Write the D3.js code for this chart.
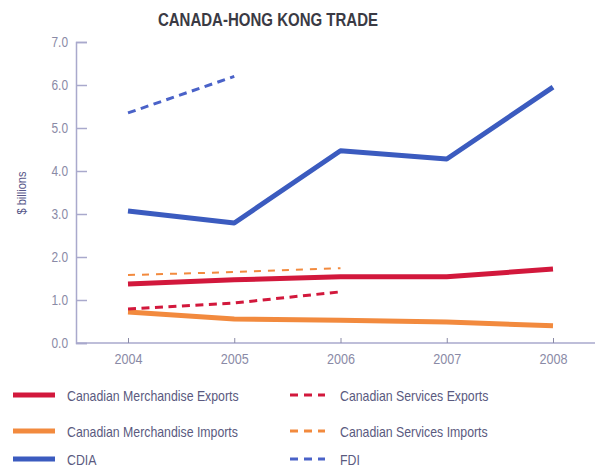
<!DOCTYPE html>
<html><head><meta charset="utf-8">
<script src="https://cdn.jsdelivr.net/npm/d3@7"></script>
<style>body{margin:0;background:#fff}svg{display:block}</style>
</head><body>
<svg id="c" width="597" height="474"></svg>
<script>
const years = [2004, 2005, 2006, 2007, 2008];
const yTicks = [0, 1, 2, 3, 4, 5, 6, 7];
const merchExports = [1.37, 1.47, 1.54, 1.54, 1.72];
const merchImports = [0.72, 0.56, 0.53, 0.49, 0.40];
const cdia = [3.07, 2.79, 4.47, 4.28, 5.95];
const servExports = [0.79, 0.93, 1.19];
const servImports = [1.58, 1.65, 1.74];
const fdi = [5.35, 6.2];

const series = [
  {name:"Canadian Merchandise Exports", vals:merchExports, color:"#d2183c", w:5, dash:null},
  {name:"Canadian Merchandise Imports", vals:merchImports, color:"#f28a3e", w:5, dash:null},
  {name:"CDIA", vals:cdia, color:"#3b5bbf", w:5, dash:null},
  {name:"Canadian Services Exports", vals:servExports, color:"#d2183c", w:3, dash:"8,5.5"},
  {name:"Canadian Services Imports", vals:servImports, color:"#f28a3e", w:2, dash:"7,7"},
  {name:"FDI", vals:fdi, color:"#4a62c8", w:3, dash:"8,5.5"}
];

const svg = d3.select("#c");
const font = "'Liberation Sans',Arial,sans-serif";
const x = d3.scalePoint().domain(years).range([128, 553]);
const y = d3.scaleLinear().domain([0, 7]).range([343, 42]);
const axisCol = "#a9a9cc", labCol = "#8a8aa6";

function condense(sel, f){
  sel.each(function(){
    const w = this.getComputedTextLength();
    d3.select(this).attr("textLength", w*f).attr("lengthAdjust","spacingAndGlyphs");
  });
}

svg.append("text").attr("x", 268).attr("y", 26).attr("text-anchor","middle")
  .attr("font-family", font).attr("font-weight","bold").attr("font-size", 19)
  .attr("fill","#3a3a44").text("CANADA-HONG KONG TRADE")
  .call(s=>condense(s, 0.79));

// y axis
const ya = svg.append("g").attr("transform","translate(76,0)")
  .call(d3.axisRight(y).tickValues(yTicks).tickSize(11).tickFormat(d3.format(".1f")));
ya.select(".domain").attr("stroke", axisCol).attr("stroke-width",1.5);
ya.selectAll(".tick line").attr("stroke", axisCol).attr("stroke-width",1.5);
ya.selectAll(".tick text").attr("x",-8).attr("text-anchor","end")
  .attr("font-family", font).attr("font-size",14).attr("fill",labCol)
  .call(s=>condense(s, 0.85));

// x axis
svg.append("line").attr("x1",76).attr("x2",595).attr("y1",343).attr("y2",343)
  .attr("stroke",axisCol).attr("stroke-width",1.5);
const xa = svg.append("g").attr("transform","translate(0,343)")
  .call(d3.axisTop(x).tickSize(5).tickFormat(d3.format("d")));
xa.select(".domain").remove();
xa.selectAll(".tick line").attr("stroke", labCol);
xa.selectAll(".tick text").attr("y", 21).attr("font-family", font)
  .attr("font-size",14).attr("fill",labCol)
  .call(s=>condense(s, 0.9));

svg.append("text").attr("transform","translate(26,193) rotate(-90)")
  .attr("text-anchor","middle").attr("font-family",font).attr("font-size",13)
  .attr("fill","#58588a").text("$ billions")
  .call(s=>condense(s, 0.85));

const line = d3.line().x((d,i)=>x(years[i])).y(d=>y(d));
series.forEach(s=>{
  svg.append("path").datum(s.vals).attr("d", line).attr("fill","none")
    .attr("stroke", s.color).attr("stroke-width", s.w)
    .attr("stroke-dasharray", s.dash).attr("stroke-linejoin","round");
});

// legend
const legRows = [395, 431, 459];
series.forEach((s,i)=>{
  const col = i < 3 ? 0 : 1;
  const row = i % 3;
  const lx = col === 0 ? 13 : 290;
  const lw = col === 0 ? 42 : 35;
  const ly = legRows[row];
  svg.append("line").attr("x1",lx).attr("x2",lx+lw).attr("y1",ly).attr("y2",ly)
    .attr("stroke", s.color).attr("stroke-width", col===0?5:3)
    .attr("stroke-dasharray", col===0?null:"8,6");
  svg.append("text").attr("x", col===0?67:340).attr("y", ly+6)
    .attr("font-family",font).attr("font-size",15).attr("fill","#5a5a80").text(s.name)
    .call(t=>condense(t, 0.82));
});
</script>
</body></html>
